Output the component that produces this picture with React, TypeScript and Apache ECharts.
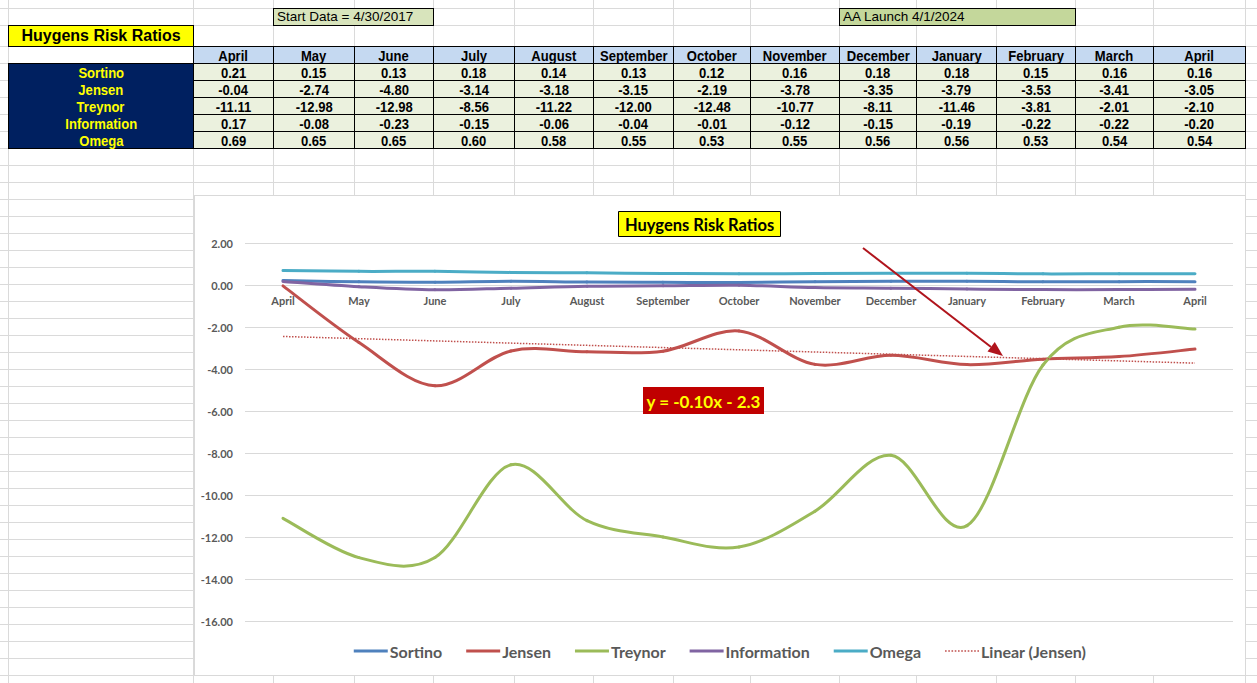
import React, { useEffect, useRef } from "react";
import * as echarts from "echarts";

// ---------- data ----------
const months = ["April", "May", "June", "July", "August", "September", "October", "November", "December", "January", "February", "March", "April"];
const rowLabels = ["Sortino", "Jensen", "Treynor", "Information", "Omega"];
const sortino = [0.21, 0.15, 0.13, 0.18, 0.14, 0.13, 0.12, 0.16, 0.18, 0.18, 0.15, 0.16, 0.16];
const jensen = [-0.04, -2.74, -4.8, -3.14, -3.18, -3.15, -2.19, -3.78, -3.35, -3.79, -3.53, -3.41, -3.05];
const treynor = [-11.11, -12.98, -12.98, -8.56, -11.22, -12.0, -12.48, -10.77, -8.11, -11.46, -3.81, -2.01, -2.1];
const information = [0.17, -0.08, -0.23, -0.15, -0.06, -0.04, -0.01, -0.12, -0.15, -0.19, -0.22, -0.22, -0.2];
const omega = [0.69, 0.65, 0.65, 0.6, 0.58, 0.55, 0.53, 0.55, 0.56, 0.56, 0.53, 0.54, 0.54];
const trendStart = -2.45;
const trendEnd = -3.72;
const equationText = "y = -0.10x - 2.3";
const startDataText = "Start Data = 4/30/2017";
const launchText = "AA Launch 4/1/2024";
const sheetTitle = "Huygens Risk Ratios";
const chartTitle = "Huygens Risk Ratios";
const seriesNames = ["Sortino", "Jensen", "Treynor", "Information", "Omega"];
const trendName = "Linear (Jensen)";
const yMin = -16;
const yMax = 2;
const yStep = 2;

const tableRows = [sortino, jensen, treynor, information, omega];
const seriesColors = ["#4F81BD", "#C0504D", "#9BBB59", "#8064A2", "#4BACC6"];

// ---------- layout ----------
const colEdges = [8, 193, 273, 354, 433, 514, 593, 673, 750, 839, 916, 996, 1075, 1153, 1245];
const hLines: number[] = [8, 25, 46, 63, 80, 97, 114, 131];
for (let y = 148; y < 690; y += 17) hLines.push(y);
const vLines = [8, 193, 273, 354, 433, 514, 593, 673, 750, 839, 916, 996, 1075, 1153, 1245];
const headerTop = 46;
const rowH = 17;
const gridColor = "#DADADA";

// chart inner layout (px)
const gridTop = 47;
const gridBottom = 54;
const chartInnerH = 479;
const plotH = chartInnerH - gridTop - gridBottom;
const zeroOffset = -(plotH * (0 - yMin)) / (yMax - yMin); // move category axis onto y = 0

const narrow: React.CSSProperties = {
  display: "inline-block",
  transform: "scaleX(0.87)",
  transformOrigin: "center",
  whiteSpace: "nowrap",
};

function Sheet() {
  const cells: React.ReactNode[] = [];
  hLines.forEach((y, i) =>
    cells.push(<div key={"h" + i} style={{ position: "absolute", left: 0, top: y, width: 1257, height: 1, background: gridColor }} />)
  );
  vLines.forEach((x, i) =>
    cells.push(<div key={"v" + i} style={{ position: "absolute", left: x, top: 0, width: 1, height: 683, background: gridColor }} />)
  );
  cells.push(
    <div key="start" style={{ position: "absolute", left: 273, top: 8, width: 161, height: 18, boxSizing: "border-box", border: "1px solid #000", background: "#D8E4BC", font: "13.5px 'Liberation Sans', Arial, sans-serif", lineHeight: "16px", paddingLeft: 3, color: "#000", whiteSpace: "nowrap" }}>
      {startDataText}
    </div>
  );
  cells.push(
    <div key="launch" style={{ position: "absolute", left: 839, top: 8, width: 237, height: 18, boxSizing: "border-box", border: "1px solid #000", background: "#C4D79B", font: "13.5px 'Liberation Sans', Arial, sans-serif", lineHeight: "16px", paddingLeft: 3, color: "#000", whiteSpace: "nowrap" }}>
      {launchText}
    </div>
  );
  cells.push(
    <div key="title" style={{ position: "absolute", left: 8, top: 25, width: 186, height: 22, boxSizing: "border-box", border: "1px solid #000", background: "#FFFF00", font: "bold 16px 'Liberation Sans', Arial, sans-serif", lineHeight: "20px", textAlign: "center", color: "#000", whiteSpace: "nowrap" }}>
      {sheetTitle}
    </div>
  );
  for (let c = 0; c < months.length; c++) {
    const x0 = colEdges[c + 1];
    const x1 = colEdges[c + 2];
    cells.push(
      <div key={"hd" + c} style={{ position: "absolute", left: x0, top: headerTop, width: x1 - x0 + 1, height: rowH + 1, boxSizing: "border-box", border: "1px solid #000", background: "#C5D9F1", display: "flex", alignItems: "center", justifyContent: "center", font: "bold 15px 'Liberation Sans', Arial, sans-serif", color: "#000" }}>
        <span style={narrow}>{months[c]}</span>
      </div>
    );
  }
  cells.push(
    <div key="lblblock" style={{ position: "absolute", left: 8, top: headerTop + rowH, width: 186, height: rowH * 5 + 1, boxSizing: "border-box", border: "1px solid #000", background: "#002060" }} />
  );
  rowLabels.forEach((lab, r) =>
    cells.push(
      <div key={"lbl" + r} style={{ position: "absolute", left: 8, top: headerTop + rowH * (r + 1), width: 186, height: rowH + 1, display: "flex", alignItems: "center", justifyContent: "center", font: "bold 15px 'Liberation Sans', Arial, sans-serif", color: "#FFFF00" }}>
        <span style={narrow}>{lab}</span>
      </div>
    )
  );
  tableRows.forEach((vals, r) => {
    vals.forEach((v, c) => {
      const x0 = colEdges[c + 1];
      const x1 = colEdges[c + 2];
      cells.push(
        <div key={"d" + r + "_" + c} style={{ position: "absolute", left: x0, top: headerTop + rowH * (r + 1), width: x1 - x0 + 1, height: rowH + 1, boxSizing: "border-box", border: "1px solid #000", background: "#EBF1DE", display: "flex", alignItems: "center", justifyContent: "center", font: "bold 15px 'Liberation Sans', Arial, sans-serif", color: "#000" }}>
          <span style={narrow}>{v.toFixed(2)}</span>
        </div>
      );
    });
  });
  return <>{cells}</>;
}

// Excel-like smoothed line (Catmull-Rom bezier segments) drawn through the axis scales
function curveSeries(name: string, arr: number[], color: string) {
  const n = arr.length;
  return {
    name,
    type: "custom",
    data: arr.map((v, i) => [i, v]),
    encode: { x: 0, y: 1 },
    itemStyle: { color },
    renderItem: (params: any, api: any) => {
      const i = params.dataIndex;
      if (i >= n - 1) return { type: "group", children: [] };
      const P = (k: number) => {
        const kk = Math.max(0, Math.min(n - 1, k));
        return api.coord([kk, arr[kk]]);
      };
      const p0 = P(i - 1);
      const p1 = P(i);
      const p2 = P(i + 1);
      const p3 = P(i + 2);
      return {
        type: "bezierCurve",
        shape: {
          x1: p1[0],
          y1: p1[1],
          x2: p2[0],
          y2: p2[1],
          cpx1: p1[0] + (p2[0] - p0[0]) / 6,
          cpy1: p1[1] + (p2[1] - p0[1]) / 6,
          cpx2: p2[0] - (p3[0] - p1[0]) / 6,
          cpy2: p2[1] - (p3[1] - p1[1]) / 6,
        },
        style: { stroke: color, lineWidth: 3, fill: "none", lineCap: "round" },
      };
    },
  };
}

let dotted = "path://";
for (let x = 0; x < 34; x += 3.4) dotted += `M${x.toFixed(1)},0h1.7v1.5h-1.7z`;

function Chart() {
  const ref = useRef<HTMLDivElement>(null);
  useEffect(() => {
    if (!ref.current) return;
    const chart = echarts.init(ref.current, undefined, { renderer: "svg" });
    const trend = months.map((_, i) => (i === 0 ? trendStart : i === months.length - 1 ? trendEnd : null));
    const font = "Lato, 'Open Sans', sans-serif";
    const arrowColor = "#B0141C";
    const allSeries = [sortino, jensen, treynor, information, omega];
    chart.setOption({
      animation: false,
      backgroundColor: "#FFFFFF",
      title: {
        text: chartTitle,
        left: 423,
        top: 15,
        backgroundColor: "#FFFF00",
        borderColor: "#000",
        borderWidth: 1,
        padding: [5, 7, 4, 7],
        textStyle: { fontFamily: font, fontWeight: "bold", fontSize: 16.5, color: "#000" },
      },
      grid: { left: 50, right: 12, top: gridTop, bottom: gridBottom },
      legend: {
        bottom: 11,
        left: "center",
        itemWidth: 34,
        itemHeight: 3,
        itemGap: 24,
        textStyle: { fontFamily: font, fontWeight: "bold", fontSize: 16, color: "#595959", padding: [0, 0, 0, -3] },
        data: [
          ...seriesNames.map((name) => ({ name, icon: "rect" })),
          { name: trendName, icon: dotted },
        ],
      },
      xAxis: {
        type: "category",
        data: months,
        boundaryGap: true,
        offset: zeroOffset,
        axisLine: { show: false, onZero: false },
        axisTick: { show: false },
        axisLabel: { interval: 0, margin: 10, color: "#595959", fontFamily: font, fontWeight: "bold", fontSize: 11 },
      },
      yAxis: {
        type: "value",
        min: yMin,
        max: yMax,
        interval: yStep,
        axisLine: { show: false },
        axisTick: { show: false },
        splitLine: { lineStyle: { color: "#D9D9D9", width: 1 } },
        axisLabel: {
          margin: 12,
          color: "#595959",
          fontFamily: font,
          fontWeight: "bold",
          fontSize: 11,
          formatter: (v: number) => v.toFixed(2),
        },
      },
      series: [
        ...allSeries.map((arr, k) => curveSeries(seriesNames[k], arr, seriesColors[k])),
        {
          name: trendName,
          type: "line",
          data: trend,
          connectNulls: true,
          symbol: "none",
          lineStyle: { width: 1.5, type: "dotted", color: "#C0504D" },
          itemStyle: { color: "#C0504D" },
        },
      ],
      graphic: [
        {
          type: "line",
          shape: { x1: 668, y1: 52, x2: 796, y2: 151 },
          style: { stroke: arrowColor, lineWidth: 2 },
          z: 100,
        },
        {
          type: "polygon",
          shape: { points: [[808, 160], [792.5, 155.6], [799.8, 146.1]] },
          style: { fill: arrowColor },
          z: 100,
        },
        {
          type: "rect",
          shape: { x: 448, y: 191, width: 121, height: 27 },
          style: { fill: "#C00000" },
          z: 100,
        },
        {
          type: "text",
          x: 508.5,
          y: 205,
          style: { text: equationText, fill: "#FFFF00", font: "bold 17px Lato, 'Open Sans', sans-serif", align: "center", verticalAlign: "middle" },
          z: 101,
        },
      ],
    });
    return () => chart.dispose();
  }, []);
  return (
    <div style={{ position: "absolute", left: 194, top: 195, width: 1052, height: 481, boxSizing: "border-box", border: "1px solid #D9D9D9", background: "#fff" }}>
      <div ref={ref} style={{ width: 1050, height: chartInnerH }} />
    </div>
  );
}

export default function App() {
  return (
    <div style={{ position: "absolute", left: 0, top: 0, width: 1257, height: 683, overflow: "hidden", background: "#fff" }}>
      <Sheet />
      <Chart />
    </div>
  );
}
